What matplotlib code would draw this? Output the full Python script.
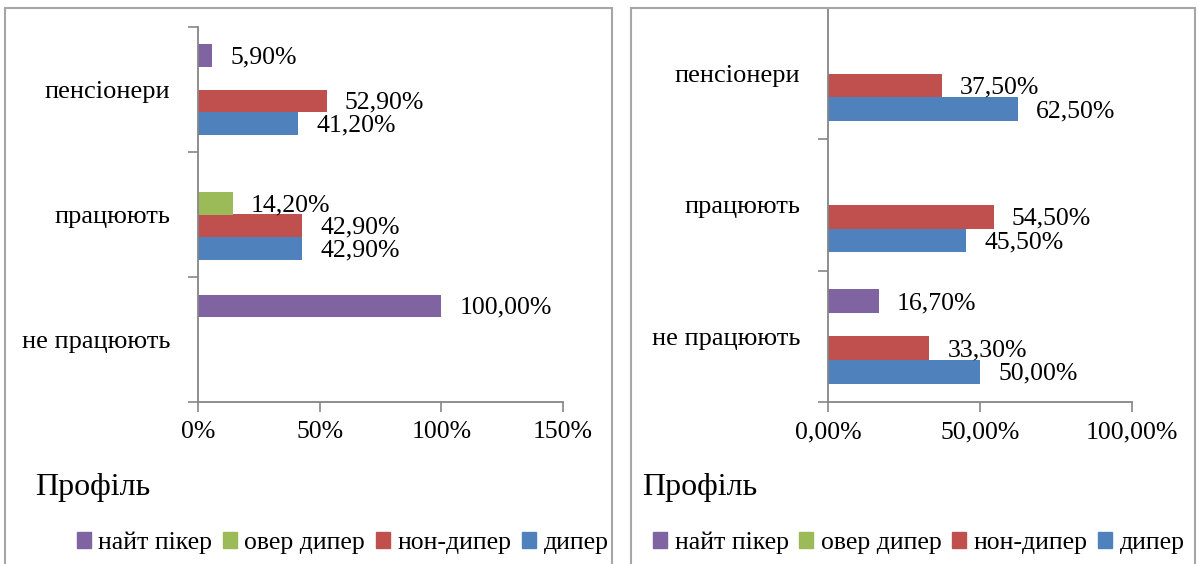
import matplotlib
matplotlib.use('Agg')
import matplotlib.pyplot as plt
from matplotlib.patches import Rectangle, Patch
import numpy as np

plt.rcParams['font.family'] = ['Liberation Serif', 'DejaVu Serif']

# categories from bottom to top
categories = ['не працюють', 'працюють', 'пенсіонери']
series_names = ['дипер', 'нон-дипер', 'овер дипер', 'найт пікер']
colors = ['#4F81BD', '#C0504D', '#9BBB59', '#8064A2']

# left chart (%)
left_diper = [0.0, 42.9, 41.2]
left_non_diper = [0.0, 42.9, 52.9]
left_over_diper = [0.0, 14.2, 0.0]
left_night_peaker = [100.0, 0.0, 5.9]
left_ticks = [0, 50, 100, 150]
left_ticklabels = ['0%', '50%', '100%', '150%']

# right chart (%)
right_diper = [50.0, 45.5, 62.5]
right_non_diper = [33.3, 54.5, 37.5]
right_over_diper = [0.0, 0.0, 0.0]
right_night_peaker = [16.7, 0.0, 0.0]
right_ticks = [0, 50, 100]
right_ticklabels = ['0,00%', '50,00%', '100,00%']

title = 'Профіль'

W, H = 1198, 564
fig = plt.figure(figsize=(W / 100, H / 100), dpi=100)

gray = '#868686'


def fmt(v):
    return '' if v == 0 else f'{v:.2f}'.replace('.', ',') + '%'


def draw(ax, data, ticks, ticklabels):
    y = np.arange(len(categories))
    h = 0.18
    for i, vals in enumerate(data):
        offs = (i - 1.5) * h
        bars = ax.barh(y + offs, vals, height=h, color=colors[i])
        anns = ax.bar_label(bars, labels=[fmt(v) for v in vals], padding=13,
                            fontsize=18.5, color='black')
        for a in anns:
            a.xyann = (13, -1.5)
    ax.set_xlim(ticks[0], ticks[-1])
    ax.set_ylim(-0.5, len(categories) - 0.5)
    ax.set_xticks(ticks)
    ax.set_xticklabels(ticklabels, fontsize=18.5)
    ax.set_yticks(np.arange(len(categories) + 1) - 0.5)
    ax.set_yticklabels([])
    ax.set_yticks(y, minor=True)
    ax.set_yticklabels(categories, minor=True, fontsize=19)
    ax.tick_params(axis='y', which='minor', length=0, pad=20)
    ax.tick_params(axis='y', which='major', length=7, color=gray, width=1.2)
    ax.tick_params(axis='x', length=7, color=gray, width=1.2, pad=7)
    for s in ['top', 'right']:
        ax.spines[s].set_visible(False)
    for s in ['left', 'bottom']:
        ax.spines[s].set_color(gray)
        ax.spines[s].set_linewidth(1.3)


axl = fig.add_axes([198 / W, 1 - 402 / H, (563 - 198) / W, (402 - 27) / H])
draw(axl, [left_diper, left_non_diper, left_over_diper, left_night_peaker],
     left_ticks, left_ticklabels)

axr = fig.add_axes([828 / W, 1 - 402 / H, (1132 - 828) / W, (402 - 8) / H])
draw(axr, [right_diper, right_non_diper, right_over_diper, right_night_peaker],
     right_ticks, right_ticklabels)

# panel borders
for x0, x1 in [(5, 612), (631, 1195)]:
    fig.patches.append(Rectangle((x0 / W, -0.05), (x1 - x0) / W, 1.05 - 8 / H,
                                 transform=fig.transFigure, fill=False,
                                 edgecolor='#a6a6a6', linewidth=1.5))

fig.text(35 / W, 1 - 488 / H, title, fontsize=23, va='center', ha='left')
fig.text(642 / W, 1 - 488 / H, title, fontsize=23, va='center', ha='left')

handles = [Patch(color=colors[i], label=series_names[i]) for i in [3, 2, 1, 0]]
for cx in [(75 + 610) / 2 / W, (648 + 1190) / 2 / W]:
    fig.legend(handles=handles, loc='center', bbox_to_anchor=(cx, 1 - 543 / H),
               ncol=4, frameon=False, fontsize=18.5, handlelength=0.55,
               handleheight=0.55, handletextpad=0.3, columnspacing=0.4,
               borderpad=0, borderaxespad=0)

fig.savefig('out.png', dpi=100)
